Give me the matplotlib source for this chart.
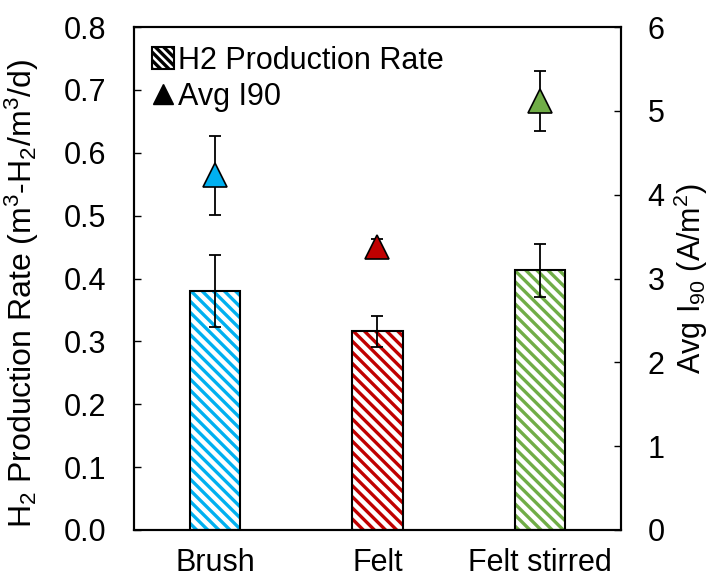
import matplotlib
matplotlib.use("Agg")
import matplotlib.pyplot as plt
from matplotlib.patches import Patch
from matplotlib.lines import Line2D
import numpy as np

plt.rcParams.update({"font.family": "Liberation Sans", "mathtext.default": "regular",
                     "hatch.linewidth": 2.4})

categories = ["Brush", "Felt", "Felt stirred"]
h2_rate = [0.380, 0.316, 0.413]
h2_err = [0.057, 0.025, 0.042]
i90 = [4.23, 3.38, 5.12]
i90_err = [0.47, 0.09, 0.36]
colors = ["#00B0F0", "#C00000", "#70AD47"]

fig = plt.figure(figsize=(7.15, 5.81), dpi=100)
ax = fig.add_axes([0.1874, 0.0878, 0.6811, 0.8657])
ax2 = ax.twinx()

x = np.arange(len(categories))
# hatched fill, then black outline on top
ax.bar(x, h2_rate, width=0.31, color="white", edgecolor=colors, hatch="\\\\\\", linewidth=0, zorder=2)
ax.bar(x, h2_rate, width=0.31, fill=False, edgecolor="black", linewidth=1.5, zorder=3)
ax.errorbar(x, h2_rate, yerr=h2_err, fmt="none", ecolor="black", elinewidth=1.3,
            capsize=4.3, capthick=1.3, zorder=4)

for xi, yi, ei, c in zip(x, i90, i90_err, colors):
    ax2.errorbar(xi, yi, yerr=ei, fmt="none", ecolor="black", elinewidth=1.3,
                 capsize=4.3, capthick=1.3, zorder=2)
    ax2.plot(xi, yi, marker="^", markersize=17, markerfacecolor=c,
             markeredgecolor="black", markeredgewidth=1.2, zorder=3)

ax.set_xlim(-0.5, 2.5)
ax.set_ylim(0, 0.8)
ax.set_yticks(np.arange(0, 0.81, 0.1))
ax.yaxis.set_major_formatter(matplotlib.ticker.StrMethodFormatter("{x:.1f}"))
ax2.set_ylim(0, 6)
ax2.set_yticks(range(0, 7))

ax.set_xticks(x)
ax.set_xticklabels(categories)
ax.tick_params(axis="x", length=0, labelsize=22, pad=13)
ax.tick_params(axis="y", direction="in", length=5, width=1, labelsize=22, pad=20)
ax2.tick_params(axis="y", direction="in", length=5, width=1, labelsize=22, pad=19)
for a in (ax, ax2):
    for s in a.spines.values():
        s.set_linewidth(1.5)

ax.set_ylabel("H$_2$ Production Rate (m$^3$-H$_2$/m$^3$/d)", fontsize=23)
ax.yaxis.set_label_coords(-0.19, 0.47)
ax2.set_ylabel("Avg I$_{90}$ (A/m$^2$)", fontsize=22, labelpad=5)

handles = [Patch(facecolor="white", edgecolor="black", hatch="\\\\\\\\", linewidth=1.5),
           Line2D([], [], marker="^", color="black", linestyle="none", markersize=15)]
ax.legend(handles, ["H2 Production Rate", "Avg I90"], loc="upper left", frameon=False,
          fontsize=22, handlelength=0.7, handletextpad=0.15, borderaxespad=0.2,
          labelspacing=0.2, bbox_to_anchor=(0.0, 0.999))

fig.savefig("out.png", dpi=100)
